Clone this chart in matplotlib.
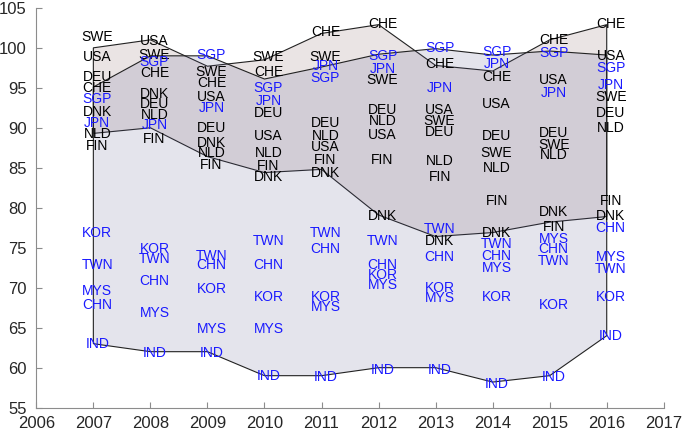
import numpy as np
import matplotlib
matplotlib.use('Agg')
import matplotlib.pyplot as plt

plt.rcParams['font.family'] = ['Liberation Sans', 'DejaVu Sans']

years = np.arange(2007, 2017)

# outline of the two country groups
west_top = [100, 101, 97.7, 98.5, 101.8, 102.9, 97.8, 97.1, 101, 102.9]
west_bot = [89.3, 90.0, 86.4, 84.4, 84.8, 79.1, 76.4, 76.9, 78.2, 78.9]
asia_top = [95.1, 99.0, 99.0, 96.1, 97.6, 99.2, 99.9, 99.1, 99.6, 99.1]
asia_bot = [63, 62, 62, 59, 59, 60, 60, 58.2, 59, 64]

# label positions, one list per country (2007..2016)
swe = [101.4, 99.1, 97.0, 98.8, 98.9, 96.0, 90.9, 86.9, 87.9, 93.9]
usa = [98.9, 100.9, 93.9, 89.0, 87.6, 89.1, 92.25, 93.0, 96.0, 99.0]
deu = [96.3, 93.0, 90.0, 91.9, 90.6, 92.25, 89.5, 89.0, 89.4, 91.9]
che = [95.0, 96.9, 95.6, 97.0, 102.0, 103.0, 98.0, 96.3, 101.0, 103.0]
dnk = [92.0, 94.2, 88.1, 83.9, 84.4, 79.0, 75.9, 76.9, 79.5, 79.0]
nld = [89.25, 91.6, 86.8, 86.9, 89.0, 90.8, 85.9, 85.0, 86.6, 90.0]
fin = [87.7, 88.6, 85.4, 85.2, 86.0, 86.0, 83.9, 80.9, 77.6, 80.9]

sgp = [93.6, 98.2, 99.1, 95.0, 96.2, 99.0, 100.0, 99.5, 99.4, 97.5]
jpn = [90.6, 90.3, 92.5, 93.4, 97.7, 97.4, 95.0, 98.0, 94.4, 95.4]
kor = [76.9, 74.9, 69.9, 68.8, 68.9, 71.6, 70.0, 68.8, 67.9, 68.9]
twn = [72.9, 73.6, 74.0, 75.9, 76.8, 75.9, 77.4, 75.5, 73.3, 72.3]
mys = [69.6, 66.8, 64.8, 64.8, 67.6, 70.4, 68.7, 72.5, 76.1, 73.9]
chn = [67.9, 70.9, 72.8, 72.8, 74.9, 72.9, 73.9, 74.0, 74.9, 77.5]
ind = [62.9, 61.8, 61.8, 58.9, 58.8, 59.75, 59.75, 58.0, 58.8, 63.9]

west = {'SWE': swe, 'USA': usa, 'DEU': deu, 'CHE': che,
        'DNK': dnk, 'NLD': nld, 'FIN': fin}
asia = {'SGP': sgp, 'JPN': jpn, 'KOR': kor, 'TWN': twn,
        'MYS': mys, 'CHN': chn, 'IND': ind}

fig = plt.figure(figsize=(6.85, 4.36), dpi=100)
ax = fig.add_axes([0.053, 0.065, 0.916, 0.917])

# two translucent patches, overlap comes out darker
xp = np.concatenate([years, years[::-1]])
ax.fill(xp, np.concatenate([west_top, west_bot[::-1]]),
        facecolor=(128/255, 88/255, 88/255, 0.16), edgecolor='#222222', lw=0.8)
ax.fill(xp, np.concatenate([asia_top, asia_bot[::-1]]),
        facecolor=(88/255, 88/255, 142/255, 0.16), edgecolor='#222222', lw=0.8)

for name, vals in west.items():
    for yr, v in zip(years, vals):
        ax.text(yr + 0.07, v, name, ha='center', va='center', fontsize=10, color='black')
for name, vals in asia.items():
    for yr, v in zip(years, vals):
        ax.text(yr + 0.07, v, name, ha='center', va='center', fontsize=10, color='#1a1aff')

ax.set_xlim(2006, 2017)
ax.set_ylim(55, 105)
ax.set_xticks(range(2006, 2018))
ax.set_yticks(range(55, 106, 5))
for s in ['top', 'right']:
    ax.spines[s].set_visible(False)
for s in ['left', 'bottom']:
    ax.spines[s].set_color('#8c8c8c')
ax.tick_params(direction='in', length=4, color='#8c8c8c', labelcolor='#262626', labelsize=12)
ax.tick_params(axis='x', pad=6)
ax.tick_params(axis='y', pad=7)

fig.savefig('out.png', dpi=100)
